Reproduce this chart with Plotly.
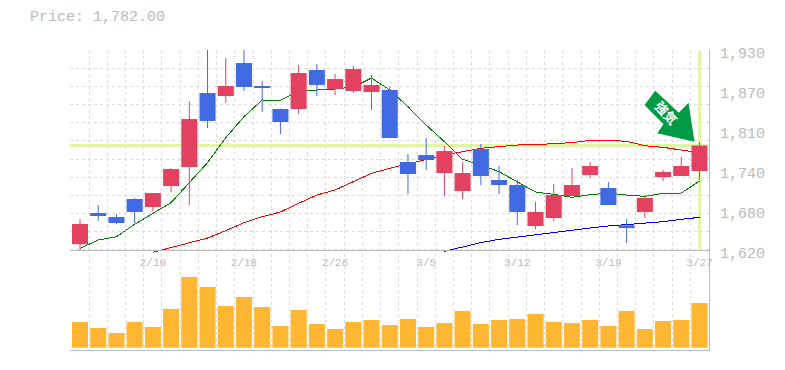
import plotly.graph_objects as go

W, H = 785, 370
L, R, T, B = 70, 709.5, 50, 350

price_label = "Price: 1,782.00"
last_price = 1782
tick_idx = [4, 9, 14, 19, 24, 29, 34]
tick_dates = ["2/10", "2/18", "2/26", "3/5", "3/12", "3/19", "3/27"]
price_ticks = [1930, 1868, 1806, 1744, 1682, 1620]
price_tick_text = ["1,930", "1,870", "1,810", "1,740", "1,680", "1,620"]

opens = [1629, 1677.3, 1671.1, 1699, 1686.6, 1719.2, 1748.6, 1863.3, 1858.7, 1909.8, 1874.2, 1838.5,
         1838.5, 1899, 1869.5, 1866.4, 1864.9, 1868, 1756.4, 1767.2, 1739.3, 1711.4, 1776.5, 1728.5,
         1720.7, 1657.2, 1669.6, 1703.7, 1736.2, 1716.1, 1658.2, 1678.9, 1733.1, 1734.7, 1742.4]
highs = [1668, 1689.7, 1675.8, 1700.6, 1708.3, 1747.1, 1851, 1940, 1917.6, 1940, 1882, 1839.5,
         1906.7, 1908.3, 1892.8, 1905.2, 1891.2, 1872.6, 1768.8, 1793.6, 1781.2, 1756.4, 1784.3, 1750.2,
         1728.5, 1694.4, 1722.3, 1747.1, 1756.4, 1725.4, 1668, 1705.2, 1744, 1764.1, 1787.4]
lows = [1620, 1664.9, 1660.3, 1661.8, 1680.4, 1709.9, 1689.7, 1809.1, 1847.8, 1866.4, 1833.9, 1799.8,
        1830.8, 1858.7, 1860.2, 1863.3, 1837, 1793.6, 1706.8, 1744, 1703.7, 1699, 1720.7, 1706.8,
        1658.7, 1652.5, 1664.9, 1703.7, 1731.6, 1689.7, 1630.8, 1669.6, 1726.9, 1734.7, 1728.5]
closes = [1660.3, 1672.7, 1661.8, 1678.9, 1708.3, 1745.5, 1823, 1820, 1874.2, 1872.6, 1871.1, 1818.4,
          1894.3, 1875.7, 1885, 1900.5, 1875.7, 1793.6, 1737.8, 1759.5, 1773.4, 1739.3, 1734.7, 1720.7,
          1678.9, 1678.9, 1705.2, 1720.7, 1750.2, 1689.7, 1655.6, 1700.6, 1740.9, 1750.2, 1782]
ma_short = [1622.6, 1635.5, 1640.6, 1659.8, 1676.8, 1693.3, 1724.4, 1755.4, 1794.1, 1826.7, 1852.5, 1852,
            1866.4, 1867.5, 1869.5, 1872.6, 1886.6, 1868, 1842.2, 1813.7, 1787.9, 1760.5, 1751.7, 1741.4,
            1725.9, 1709.9, 1706.3, 1701.6, 1705.7, 1708.3, 1705.2, 1703.2, 1707.8, 1708.3, 1726.9]
ma_mid = [1616.4, 1624.1, 1631.4, 1638.6, 1650, 1662.3, 1671.6, 1678.9, 1692.3, 1705.2, 1713, 1725.9,
          1738.8, 1746.6, 1753.3, 1760.5, 1767.2, 1772.4, 1777.6, 1780.2, 1782.7, 1783.3, 1784.8, 1786.4,
          1790, 1790, 1788.4, 1781.7, 1779.1, 1775, 1770.9]
ma_long = [1617.9, 1625.2, 1631.4, 1636.5, 1640.1, 1644.3, 1647.4, 1651, 1654.1, 1657.2, 1659.2, 1661.3,
           1663.9, 1667.5, 1670.6]
volumes = [7700, 5900, 4400, 7700, 6200, 11600, 21200, 18200, 12500, 15200, 12200, 6500, 11300, 7100, 5600,
           7700, 8300, 6800, 8600, 6200, 7400, 11000, 7100, 8300, 8600, 10100, 7700, 7400, 8300, 6500,
           11000, 5600, 8000, 8300, 13400]

n = len(closes)
idx = list(range(n))
PX_PER_BAR = 18.235
x_range = [(L - 80) / PX_PER_BAR, (R - 80) / PX_PER_BAR]
UNITS = 1.55
y_top = 1930
y_range = [y_top - (B - T) * UNITS, y_top]
grid_vals = [1620 + i * 310 / 11 for i in range(12)]
grid_vals[-1] -= 0.1
grid_vals[0] += 0.1
GRAY = "#bbbbbb"
GRID = "#dddddd"
MONO = "Liberation Mono, monospace"
HILITE = "#e2f5a6"
UP = "#e24260"
DOWN = "#4169e1"
colors = [UP if c >= o else DOWN for o, c in zip(opens, closes)]
# nearly opaque wick colours make plotly round the thin bars to 1px rather than expanding to 2px
wick_colors = ["rgba(226,66,96,0.995)" if c >= o else "rgba(65,105,225,0.995)" for o, c in zip(opens, closes)]


def px(x):
    return (x - L) / (R - L)


def py(y):
    return (B - y) / (B - T)


fig = go.Figure()
fig.add_trace(go.Scatter(x=[x_range[0], n - 1 + 0.45], y=[last_price, last_price], mode="lines",
                         line=dict(color=HILITE, width=3)))
fig.add_trace(go.Scatter(x=[n - 1, n - 1], y=[1621, 1929], mode="lines",
                         line=dict(color=HILITE, width=3)))
fig.add_trace(go.Scatter(x=idx, y=ma_short, mode="lines", line=dict(color="#008000", width=1)))
fig.add_trace(go.Scatter(x=idx[4:], y=ma_mid, mode="lines", line=dict(color="#ff0000", width=1), cliponaxis=False))
fig.add_trace(go.Scatter(x=idx[20:], y=ma_long, mode="lines", line=dict(color="#0000ff", width=1), cliponaxis=False))
# candles on an overlaid pair of axes so they sit above the moving averages
fig.add_trace(go.Bar(x=idx, y=[h - l for h, l in zip(highs, lows)], base=lows, xaxis="x3", yaxis="y3",
                     width=0.055, marker=dict(color=wick_colors, line=dict(width=0))))
fig.add_trace(go.Bar(x=idx, y=[abs(c - o) for o, c in zip(opens, closes)], base=[min(o, c) for o, c in zip(opens, closes)],
                     xaxis="x3", yaxis="y3", width=0.88, marker=dict(color=colors, line=dict(width=0))))
fig.add_trace(go.Bar(x=idx, y=volumes, xaxis="x2", yaxis="y2", marker=dict(color="#ffb733", line=dict(width=0)),
                     width=0.88))

arrow = [(655.7, 90.7), (645, 105), (664, 124.3), (657.7, 133.3), (695, 141.7), (689, 102.7), (679.3, 112.7)]
path = "M " + " L ".join(f"{px(a):.5f},{py(b):.5f}" for a, b in arrow) + " Z"

hidden_x = dict(range=x_range, overlaying="x", side="bottom", showticklabels=False, ticks="",
                showgrid=False, zeroline=False)
fig.update_layout(
    width=W, height=H,
    margin=dict(l=L, r=W - R, t=T, b=H - B),
    paper_bgcolor="white", plot_bgcolor="white",
    showlegend=False, hovermode=False, barmode="overlay",
    xaxis=dict(range=x_range, anchor="free", position=py(250),
               tickmode="array", tickvals=tick_idx, ticktext=tick_dates, ticks="", showgrid=False,
               zeroline=False, showline=True, linecolor=GRAY, linewidth=1, ticklabelstandoff=2,
               tickfont=dict(family=MONO, size=11, color=GRAY),
               minor=dict(tickmode="linear", tick0=-0.5, dtick=1, showgrid=True, griddash="3px,3px",
                          gridcolor=GRID, gridwidth=1, ticks="")),
    xaxis2=dict(hidden_x, anchor="y2", showline=True, linecolor=GRAY, linewidth=1),
    xaxis3=dict(hidden_x, anchor="y3", showline=False),
    yaxis=dict(range=y_range, side="right", anchor="x", tickmode="array", tickvals=price_ticks,
               ticktext=price_tick_text, ticks="", showgrid=False, zeroline=False, showline=False,
               ticklabelstandoff=10, ticklabelshift=3,
               tickfont=dict(family=MONO, size=15, color=GRAY),
               minor=dict(tickmode="array", tickvals=grid_vals, showgrid=True, griddash="3px,3px",
                          gridcolor=GRID, gridwidth=1, ticks="")),
    yaxis2=dict(range=[-700, 89300], overlaying="y", anchor="x2", side="right", showticklabels=False, ticks="",
                showgrid=False, zeroline=False, showline=True, linecolor=GRAY, linewidth=1),
    yaxis3=dict(range=y_range, overlaying="y", anchor="x3", side="right", showticklabels=False, ticks="",
                showgrid=False, zeroline=False, showline=False),
    shapes=[dict(type="path", path=path, xref="paper", yref="paper", fillcolor="#009944",
                 line=dict(width=0), layer="above")],
    annotations=[
        dict(text=price_label, xref="paper", yref="paper", x=px(28), y=py(18), xanchor="left", yanchor="middle",
             showarrow=False, font=dict(family=MONO, size=15, color=GRAY)),
        dict(text="強気", xref="paper", yref="paper", x=px(667), y=py(112), xanchor="center", yanchor="middle",
             showarrow=False, textangle=48,
             font=dict(family="Noto Sans CJK JP", size=13, color="white", weight="bold")),
    ],
)

post = ("document.body.style.margin='0';document.body.style.overflow='hidden';"
        "var s=document.createElement('style');s.textContent='.scatterlayer path{shape-rendering:crispEdges}';"
        "document.head.appendChild(s);")
fig.write_html("out.html", config={"displayModeBar": False}, post_script=post)
